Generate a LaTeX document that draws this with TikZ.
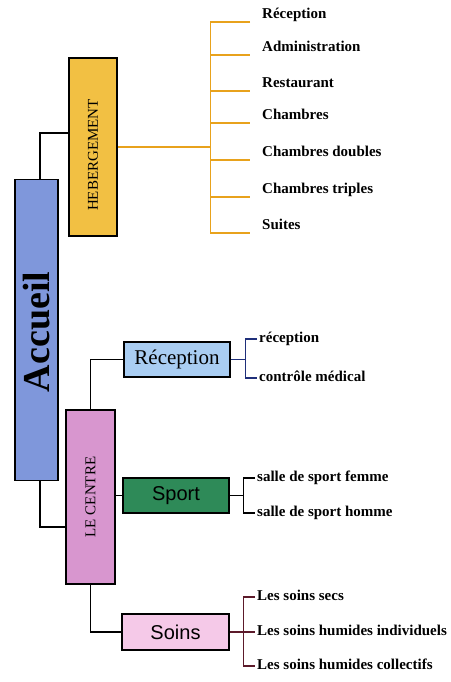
\documentclass[tikz,border=0pt]{standalone}
\usepackage{fontspec}
\usepackage{graphicx}
\setmainfont{Liberation Serif}
\setsansfont{Liberation Sans}
\definecolor{accueilblue}{HTML}{7F97DB}
\definecolor{hebyellow}{HTML}{F2C043}
\definecolor{centrepink}{HTML}{D896CF}
\definecolor{recblue}{HTML}{A9CDF2}
\definecolor{sportgreen}{HTML}{2E8A58}
\definecolor{soinspink}{HTML}{F5C9E8}
\definecolor{hebline}{HTML}{E8A21C}
\definecolor{recline}{HTML}{1F2F7A}
\definecolor{soinsline}{HTML}{5C1A2A}

\begin{document}
\begin{tikzpicture}[x=1pt,y=-1pt,
  box/.style={draw=black,line width=1.6pt,inner sep=0pt},
  link/.style={draw=black,line width=1.2pt},
  hebleaf/.style={anchor=south west,inner xsep=12pt,inner ysep=3pt,text depth=0pt,font=\fontsize{15}{18}\selectfont\bfseries},
  leaf/.style={anchor=west,inner xsep=2pt,inner ysep=0pt,text height=7pt,text depth=0pt,font=\fontsize{15}{18}\selectfont\bfseries}]
  \useasboundingbox (0,0) rectangle (450,682);

  % main boxes
  \node[box,fill=accueilblue,minimum width=43pt,minimum height=301pt] (accueil) at (36.5,330) {\rotatebox{90}{\fontsize{38}{40}\selectfont\bfseries Accueil\kern4pt}};
  \node[box,fill=hebyellow,minimum width=48pt,minimum height=178pt] (heb) at (93,147) {\rotatebox{90}{\fontsize{15}{18}\selectfont HEBERGEMENT\kern16pt}};
  \node[box,fill=centrepink,minimum width=49pt,minimum height=174pt] (centre) at (90.5,497) {\rotatebox{90}{\fontsize{15}{18}\selectfont LE CENTRE}};
  \node[box,fill=recblue,minimum width=106pt,minimum height=35pt] (reception) at (177,359.5) {\fontsize{21}{24}\selectfont Réception};
  \node[box,fill=sportgreen,minimum width=106pt,minimum height=35pt] (sport) at (176,495.5) {\fontsize{20}{24}\selectfont\sffamily Sport};
  \node[box,fill=soinspink,minimum width=107pt,minimum height=36pt] (soins) at (175.5,632) {\fontsize{20}{24}\selectfont\sffamily Soins};

  \draw[link] ([xshift=3.5pt]accueil.north) |- ([yshift=14pt]heb.west);
  \draw[link] ([xshift=3.5pt]accueil.south) |- ([yshift=-30pt]centre.west);
  \draw[link] (centre.north) |- (reception.west);
  \draw[link] (centre.east |- sport.west) -- (sport.west);
  \draw[link] (centre.south) |- (soins.west);

  % hebergement
  \node[hebleaf] (heb1) at (250,22) {Réception};
  \node[hebleaf] (heb2) at (250,55) {Administration};
  \node[hebleaf] (heb3) at (250,91) {Restaurant};
  \node[hebleaf] (heb4) at (250,123) {Chambres};
  \node[hebleaf] (heb5) at (250,160) {Chambres doubles};
  \node[hebleaf] (heb6) at (250,197) {Chambres triples};
  \node[hebleaf] (heb7) at (250,233) {Suites};
  \coordinate (hebfork) at ([xshift=93pt]heb.east);
  \draw[draw=hebline,line width=1.2pt] (heb.east) -- (hebfork);
  \draw[draw=hebline,line width=1.2pt] (heb1.south west) -| (hebfork) |- (heb7.south west);
  \draw[draw=hebline,line width=1.2pt] (hebfork |- heb2.south west) -- (heb2.south west);
  \draw[draw=hebline,line width=1.2pt] (hebfork |- heb3.south west) -- (heb3.south west);
  \draw[draw=hebline,line width=1.2pt] (hebfork |- heb4.south west) -- (heb4.south west);
  \draw[draw=hebline,line width=1.2pt] (hebfork |- heb5.south west) -- (heb5.south west);
  \draw[draw=hebline,line width=1.2pt] (hebfork |- heb6.south west) -- (heb6.south west);

  % reception
  \node[leaf] (rec1) at (257,339) {réception};
  \node[leaf] (rec2) at (257,378) {contrôle médical};
  \coordinate (recfork) at ([xshift=15pt]reception.east);
  \draw[draw=recline,line width=1.2pt] (reception.east) -- (recfork);
  \draw[draw=recline,line width=1.2pt] (rec1.west) -| (recfork) |- (rec2.west);

  % sport
  \node[leaf] (spo1) at (255,478) {salle de sport femme};
  \node[leaf] (spo2) at (255,513) {salle de sport homme};
  \coordinate (spofork) at ([xshift=14pt]sport.east);
  \draw[link] (sport.east) -- (spofork);
  \draw[link] (spo1.west) -| (spofork) |- (spo2.west);

  % soins
  \node[leaf] (soi1) at (255,597) {Les soins secs};
  \node[leaf] (soi2) at (255,632) {Les soins humides individuels};
  \node[leaf] (soi3) at (255,666) {Les soins humides collectifs};
  \coordinate (soifork) at ([xshift=14pt]soins.east);
  \draw[draw=soinsline,line width=1.2pt] (soins.east) -- (soi2.west);
  \draw[draw=soinsline,line width=1.2pt] (soi1.west) -| (soifork) |- (soi3.west);
\end{tikzpicture}
\end{document}
